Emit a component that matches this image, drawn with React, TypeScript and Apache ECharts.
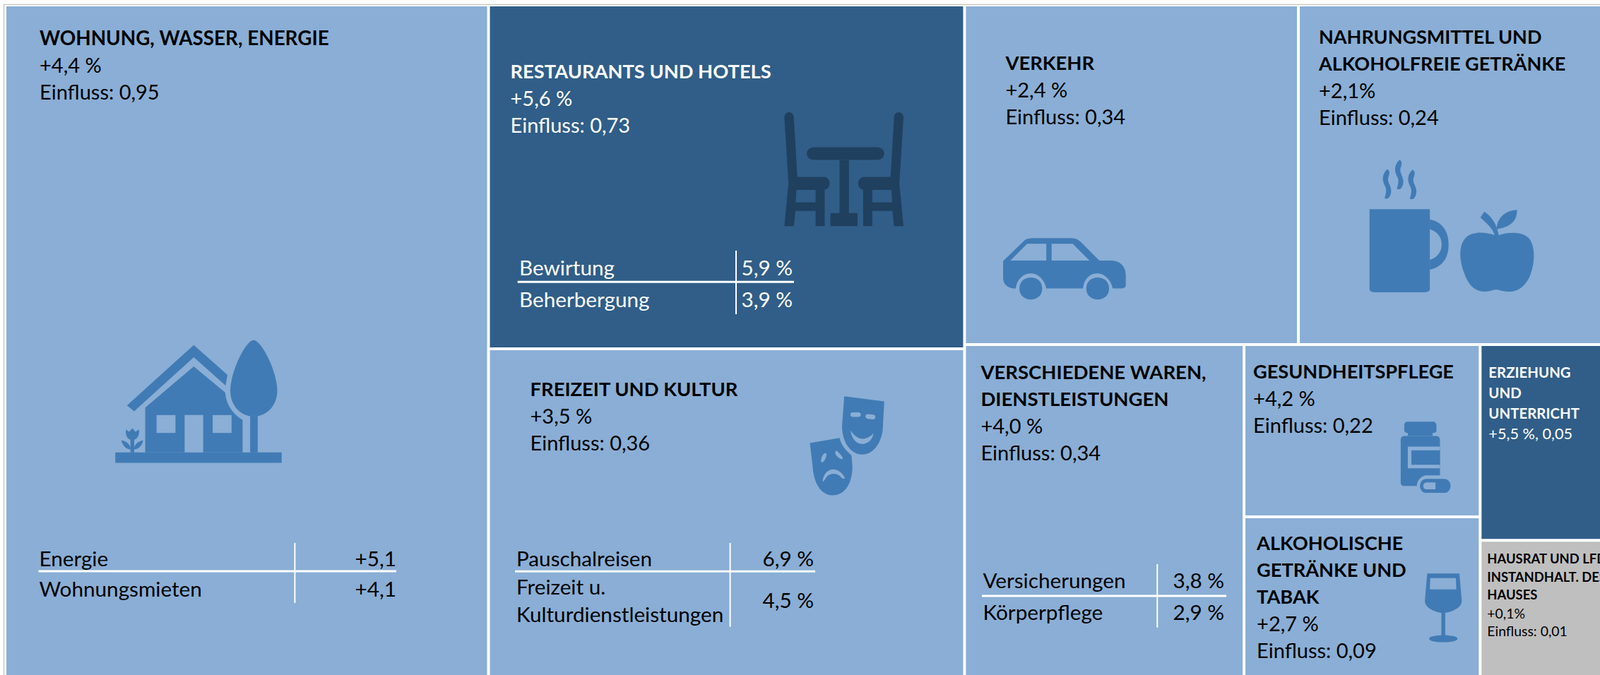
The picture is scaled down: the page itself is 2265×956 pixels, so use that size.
import React, { useEffect, useRef } from "react";
import * as echarts from "echarts";

// --- data ---
const tileShares = {
  wohnung: 29.7,
  restaurants: 14.93,
  freizeit: 14.31,
  verkehr: 10.34,
  nahrung: 10.37,
  verschiedene: 8.51,
  gesundheit: 3.71,
  alkohol: 3.48,
  erziehung: 2.73,
  hausrat: 1.93,
};
const changes = {
  wohnung: "+4,4 %", restaurants: "+5,6 %", freizeit: "+3,5 %", verkehr: "+2,4 %", nahrung: "+2,1%",
  verschiedene: "+4,0 %", gesundheit: "+4,2 %", alkohol: "+2,7 %", hausrat: "+0,1%",
};
const influences = {
  wohnung: "Einfluss: 0,95", restaurants: "Einfluss: 0,73", freizeit: "Einfluss: 0,36", verkehr: "Einfluss: 0,34",
  nahrung: "Einfluss: 0,24", verschiedene: "Einfluss: 0,34", gesundheit: "Einfluss: 0,22", alkohol: "Einfluss: 0,09",
  hausrat: "Einfluss: 0,01",
};
const erziehungLine = "+5,5 %, 0,05";

const LIGHT = "#8AAED5";
const DARK = "#305E88";
const GREY = "#BFBFBF";
const ICON = "#417BB5";
const CHAIR = "#20405F";
const FONT = "Lato";
const BS = 29;
const TABLE_FS = 29.7;

function lbl(lines: string[], pos: number[], color: string, tSize: number, bSize: number, lh: number, nTitle: number) {
  const text = lines.map((l, i) => `{${i < nTitle ? "t" : "b"}|${l}}`).join("\n");
  return {
    show: true,
    position: pos,
    align: "left",
    verticalAlign: "top",
    padding: 0,
    overflow: "none",
    formatter: () => text,
    rich: {
      t: { fontFamily: FONT, fontWeight: 700, fontSize: tSize, lineHeight: lh, color },
      b: { fontFamily: FONT, fontWeight: 400, fontSize: bSize, lineHeight: lh, color },
    },
  };
}
const leaf = (name: string, value: number, color: string, label: any) => ({
  name, value, itemStyle: { color }, label,
});

const treeData = [
  leaf("WOHNUNG, WASSER, ENERGIE", tileShares.wohnung, LIGHT,
    lbl(["WOHNUNG, WASSER, ENERGIE", changes.wohnung, influences.wohnung], [47, 25], "#000", 27.8, BS, 38.2, 1)),
  {
    name: "col2",
    children: [
      leaf("RESTAURANTS UND HOTELS", tileShares.restaurants, DARK,
        lbl(["RESTAURANTS UND HOTELS", changes.restaurants, influences.restaurants], [29, 72], "#fff", 27.3, BS, 38.2, 1)),
      leaf("FREIZEIT UND KULTUR", tileShares.freizeit, LIGHT,
        lbl(["FREIZEIT UND KULTUR", changes.freizeit, influences.freizeit], [57, 35], "#000", 27.4, BS, 38.2, 1)),
    ],
  },
  {
    name: "right",
    children: [
      {
        name: "top",
        children: [
          leaf("VERKEHR", tileShares.verkehr, LIGHT,
            lbl(["VERKEHR", changes.verkehr, influences.verkehr], [56, 60], "#000", 27.4, BS, 38.2, 1)),
          leaf("NAHRUNGSMITTEL", tileShares.nahrung, LIGHT,
            lbl(["NAHRUNGSMITTEL UND", "ALKOHOLFREIE GETRÄNKE", changes.nahrung, influences.nahrung], [27, 23], "#000", 27, BS, 38.2, 2)),
        ],
      },
      {
        name: "bottom",
        children: [
          leaf("VERSCHIEDENE", tileShares.verschiedene, LIGHT,
            lbl(["VERSCHIEDENE WAREN,", "DIENSTLEISTUNGEN", changes.verschiedene, influences.verschiedene], [21, 17], "#000", 27.5, BS, 38.2, 2)),
          {
            name: "mid",
            children: [
              leaf("GESUNDHEITSPFLEGE", tileShares.gesundheit, LIGHT,
                lbl(["GESUNDHEITSPFLEGE", changes.gesundheit, influences.gesundheit], [11, 16], "#000", 27.1, BS, 38.2, 1)),
              leaf("ALKOHOLISCHE", tileShares.alkohol, LIGHT,
                lbl(["ALKOHOLISCHE", "GETRÄNKE UND", "TABAK", changes.alkohol, influences.alkohol], [16, 15], "#000", 27.2, BS, 38.2, 3)),
            ],
          },
          {
            name: "side",
            children: [
              leaf("ERZIEHUNG", tileShares.erziehung, DARK,
                lbl(["ERZIEHUNG", "UND", "UNTERRICHT", erziehungLine], [10, 23], "#fff", 20.4, 21.7, 28.8, 3)),
              leaf("HAUSRAT", tileShares.hausrat, GREY,
                lbl(["HAUSRAT UND LFD.", "INSTANDHALT. DES", "HAUSES", changes.hausrat, influences.hausrat], [8, 11], "#000", 18.4, 19.4, 25.7, 3)),
            ],
          },
        ],
      },
    ],
  },
];

// --- sub-tables ---
const tables = [
  {
    color: "#000",
    h: [54.5, 561, 809], v: [417.4, 769, 854],
    left: 55.5, right: 561,
    rows: [["Energie", 790, "+5,1"], ["Wohnungsmieten", 833, "+4,1"]],
  },
  {
    color: "#fff",
    h: [732.7, 1124, 399.3], v: [1042, 355, 445],
    left: 735, right: 1122,
    rows: [["Bewirtung", 378, "5,9 %"], ["Beherbergung", 423.5, "3,9 %"]],
  },
  {
    color: "#000",
    h: [729, 1154, 809.3], v: [1033.6, 769, 887.7],
    left: 731, right: 1152,
    rows: [["Pauschalreisen", 790, "6,9 %"], ["Freizeit u.", 830, ""], ["Kulturdienstleistungen", 869, ""], ["", 849, "4,5 %"]],
  },
  {
    color: "#000",
    h: [1390, 1736, 844], v: [1638.3, 799, 888.7],
    left: 1391.5, right: 1733,
    rows: [["Versicherungen", 821, "3,8 %"], ["Körperpflege", 866, "2,9 %"]],
  },
];

const steam = (dx: number, dy: number) =>
  `M${1046 + dx},${720 + dy} C${1032 + dx},${745 + dy} ${1034 + dx},${770 + dy} ${1042 + dx},${795 + dy} C${1046 + dx},${810 + dy} ${1042 + dx},${830 + dy} ${1040 + dx},${843 + dy} C${1050 + dx},${852 + dy} ${1056 + dx},${830 + dy} ${1056 + dx},${810 + dy} C${1056 + dx},${790 + dy} ${1044 + dx},${770 + dy} ${1050 + dx},${750 + dy} C${1052 + dx},${738 + dy} ${1054 + dx},${725 + dy} ${1046 + dx},${720 + dy} Z`;

// icon outlines, drawn in a local grid then placed by offset and scale
const icons = [
  { // house
    x: 0, y: 460, sx: 1 / 2.24, sy: 1 / 3, parts: [
      ["M403,343 L615,86 L722,213 L716,258 L615,138 L426,368 Z", ICON],
      ["M461,352 L615,177 L715,288 C717,340 740,380 770,405 L770,543 L461,543 Z", ICON],
      ["M366,543 L894,543 L894,587 L366,587 Z", ICON],
      ["M497,384 L557,384 L557,460 L497,460 Z", LIGHT],
      ["M586,384 L645,384 L645,543 L586,543 Z", LIGHT],
      ["M675,384 L735,384 L735,460 L675,460 Z", LIGHT],
      ["M805,65 C830,65 880,200 880,280 C880,345 845,390 805,390 C765,390 731,345 731,280 C731,200 780,65 805,65 Z", ICON],
      ["M794,388 L818,388 L818,543 L794,543 Z", ICON],
      ["M414,488 L426,488 L426,543 L414,543 Z", ICON],
      ["M400,445 L410,455 L420,440 L430,455 L441,445 C444,470 435,490 420,490 C405,490 397,470 400,445 Z", ICON],
      ["M385,492 C405,495 415,515 415,530 C400,530 390,515 385,492 Z", ICON],
      ["M455,492 C435,495 425,515 425,530 C440,530 450,515 455,492 Z", ICON],
    ],
  },
  { // table and chairs
    x: 680, y: 0, sx: 1 / 2.24, sy: 1 / 3, parts: [
      ["M965,500 C965,470 995,470 995,500 L1006,752 L1090,752 C1115,755 1115,805 1090,808 L1093,808 L1093,962 L1064,962 L1064,897 L1000,897 L995,962 L965,962 L978,780 Z", CHAIR],
      ["M1003,808 L1064,808 L1064,860 L1001,860 Z", DARK],
      ["M1343,500 C1343,470 1313,470 1313,500 L1302,752 L1218,752 C1193,755 1193,805 1218,808 L1215,808 L1215,962 L1244,962 L1244,897 L1308,897 L1313,962 L1343,962 L1330,780 Z", CHAIR],
      ["M1244,808 L1305,808 L1307,860 L1244,860 Z", DARK],
      ["M1060,626 L1258,626 C1290,626 1290,680 1258,680 L1060,680 C1028,680 1028,626 1060,626 Z", CHAIR],
      ["M1140,680 L1170,680 L1170,908 L1140,908 Z", CHAIR],
      ["M1111,906 L1197,906 L1197,962 L1111,962 Z", CHAIR],
    ],
  },
  { // masks
    x: 680, y: 480, sx: 1 / 2.24, sy: 1 / 3, parts: [
      ["M1155,244 L1282,266 L1277,390 C1270,450 1245,492 1212,492 C1175,490 1148,440 1148,370 Z", ICON],
      ["M1182,312 L1200,312 C1210,312 1210,332 1200,332 L1182,332 C1172,332 1172,312 1182,312 Z", LIGHT],
      ["M1230,320 L1247,322 C1257,324 1255,342 1247,342 L1230,340 C1220,338 1220,320 1230,320 Z", LIGHT],
      ["M1175,390 C1190,420 1205,425 1212,425 C1225,425 1240,415 1248,400 C1245,430 1230,447 1210,447 C1190,445 1178,420 1175,390 Z", LIGHT],
      ["M1046,443 L1140,421 C1145,450 1160,475 1178,495 L1181,545 C1180,610 1160,665 1118,665 C1080,665 1058,610 1055,545 Z", ICON],
      ["M1095,485 C1100,490 1100,495 1095,510 C1088,530 1078,530 1082,510 C1085,495 1090,487 1095,485 Z", LIGHT],
      ["M1130,475 C1140,485 1150,500 1150,508 C1150,515 1140,510 1133,500 C1125,490 1125,478 1130,475 Z", LIGHT],
      ["M1086,605 C1090,570 1105,555 1120,555 C1135,555 1150,570 1157,592 C1150,600 1148,590 1140,582 C1130,570 1110,570 1100,585 C1095,595 1090,610 1086,605 Z", LIGHT],
    ],
  },
  { // car, mug, apple
    x: 1360, y: 0, sx: 1 / 1.7326, sy: 1 / 3, parts: [
      ["M104,1110 L155,1025 C160,1015 170,1013 180,1013 L270,1013 C280,1013 288,1018 295,1030 L340,1108 L370,1108 C395,1110 405,1140 405,1170 L405,1215 C405,1222 400,1227 395,1227 L373,1227 C368,1185 350,1163 335,1163 C318,1163 302,1185 300,1227 L210,1227 C205,1185 188,1163 172,1163 C155,1163 138,1185 135,1227 C115,1227 104,1210 104,1180 Z", ICON],
      ["M122,1108 L163,1037 L210,1037 L210,1108 Z", LIGHT],
      ["M223,1037 L275,1037 L316,1108 L223,1108 Z", LIGHT],
      ["M144,1227 C144,1195 158,1180 172,1180 C186,1180 200,1195 200,1227 C200,1259 186,1274 172,1274 C158,1274 144,1259 144,1227 Z", ICON],
      ["M308,1227 C308,1195 322,1180 336,1180 C350,1180 364,1195 364,1227 C364,1259 350,1274 336,1274 C322,1274 308,1259 308,1227 Z", ICON],
      ["M1003,890 L1151,890 L1151,1230 C1151,1238 1146,1243 1138,1243 L1016,1243 C1008,1243 1003,1238 1003,1230 Z", ICON],
      ["M1151,933 C1185,945 1197,990 1197,1040 C1197,1090 1185,1135 1151,1147 L1151,1105 C1170,1095 1180,1070 1180,1040 C1180,1010 1170,985 1151,975 Z", ICON],
      [steam(0, 0), ICON],
      [steam(30, -40), ICON],
      [steam(62, 2), ICON],
      ["M1320,1000 C1345,985 1380,985 1395,1015 C1410,1050 1410,1120 1395,1180 C1380,1230 1360,1243 1340,1240 C1325,1238 1320,1232 1315,1232 C1305,1232 1300,1240 1285,1240 C1260,1240 1245,1210 1235,1160 C1222,1100 1222,1040 1240,1010 C1255,985 1285,985 1310,1000 C1305,970 1290,950 1275,925 L1285,900 C1305,925 1315,955 1320,1000 Z", ICON],
      ["M1315,975 C1315,930 1335,895 1365,893 C1365,940 1350,965 1315,975 Z", ICON],
    ],
  },
  { // pills, glass
    x: 1740, y: 480, sx: 1 / 2.987, sy: 1 / 3, parts: [
      ["M755,352 L860,352 C870,352 876,358 876,368 L876,390 C876,398 870,400 860,400 L860,413 L755,413 L755,400 C745,400 740,395 740,388 L740,365 C740,358 745,352 755,352 Z", ICON],
      ["M740,413 L875,413 C885,413 891,420 891,430 L891,580 L830,580 C810,585 795,600 793,625 L740,625 C730,625 725,620 725,610 L725,430 C725,420 730,413 740,413 Z", ICON],
      ["M755,458 L891,458 L891,550 L755,550 Z", LIGHT],
      ["M770,474 L891,474 L891,535 L770,535 Z", ICON],
      ["M835,595 L907,595 C945,595 945,655 907,655 L835,655 C797,655 797,595 835,595 Z", ICON],
      ["M872,610 L835,610 C815,610 815,640 835,640 L872,640 Z", LIGHT],
      ["M837,998 L973,998 L983,1115 C983,1140 950,1160 913,1165 L913,1260 C940,1263 965,1265 965,1275 C965,1285 940,1290 905,1290 C870,1290 845,1285 845,1275 C845,1265 870,1263 897,1260 L897,1165 C860,1160 827,1140 827,1115 Z", ICON],
      ["M850,1017 L958,1017 L960,1065 L848,1065 Z", LIGHT],
    ],
  },
];

export default function App() {
  const ref = useRef<HTMLDivElement>(null);
  useEffect(() => {
    document.body.style.margin = "0";
    document.body.style.background = "#fff";
    const Z = 100;
    const shapeEls: any[] = [];
    icons.forEach((ic, i) => {
      ic.parts.forEach((p, j) => {
        const key = `icon_${i}_${j}`;
        echarts.graphic.registerShape(key, echarts.graphic.extendPath(p[0] as string, {}));
        shapeEls.push({
          type: key, z: Z, x: ic.x, y: ic.y, scaleX: ic.sx, scaleY: ic.sy, silent: true,
          style: { fill: p[1] as string },
        });
      });
    });
    const tableEls: any[] = [];
    tables.forEach((t) => {
      tableEls.push({ type: "line", z: Z, silent: true, shape: { x1: t.h[0], y1: t.h[2], x2: t.h[1], y2: t.h[2] }, style: { stroke: "#fff", lineWidth: 3 } });
      tableEls.push({ type: "line", z: Z, silent: true, shape: { x1: t.v[0], y1: t.v[1], x2: t.v[0], y2: t.v[2] }, style: { stroke: "#fff", lineWidth: 2 } });
      t.rows.forEach((r) => {
        const [a, yy, b] = r as any[];
        if (a) tableEls.push({ type: "text", z: Z, silent: true, x: t.left, y: yy, style: { text: a, fill: t.color, font: `400 ${TABLE_FS}px ${FONT}`, textAlign: "left", textVerticalAlign: "middle" } });
        if (b) tableEls.push({ type: "text", z: Z, silent: true, x: t.right, y: yy, style: { text: b, fill: t.color, font: `400 ${TABLE_FS}px ${FONT}`, textAlign: "right", textVerticalAlign: "middle" } });
      });
    });
    const chart = echarts.init(ref.current!, undefined, { renderer: "svg" });
    const gap = { borderWidth: 0, gapWidth: 4, borderColor: "#fff" };
    chart.setOption({
      animation: false,
      backgroundColor: "#fff",
      series: [{
        type: "treemap",
        left: 9, top: 9, width: 2301, height: 950,
        sort: false,
        squareRatio: 1,
        roam: false,
        nodeClick: false,
        breadcrumb: { show: false },
        visibleMin: 0,
        silent: true,
        itemStyle: gap,
        levels: [
          { itemStyle: gap }, { itemStyle: gap }, { itemStyle: gap }, { itemStyle: gap }, { itemStyle: gap },
        ],
        data: treeData,
      }],
      graphic: {
        elements: [
          { type: "polyline", z: Z, silent: true, shape: { points: [[5.5, 956], [5.5, 6.5], [2265, 6.5]] }, style: { stroke: "#C8C8C8", fill: "none", lineWidth: 1.5 } },
          ...shapeEls,
          ...tableEls,
        ],
      },
    });
    return () => chart.dispose();
  }, []);
  return <div ref={ref} style={{ width: 2265, height: 956 }} />;
}
